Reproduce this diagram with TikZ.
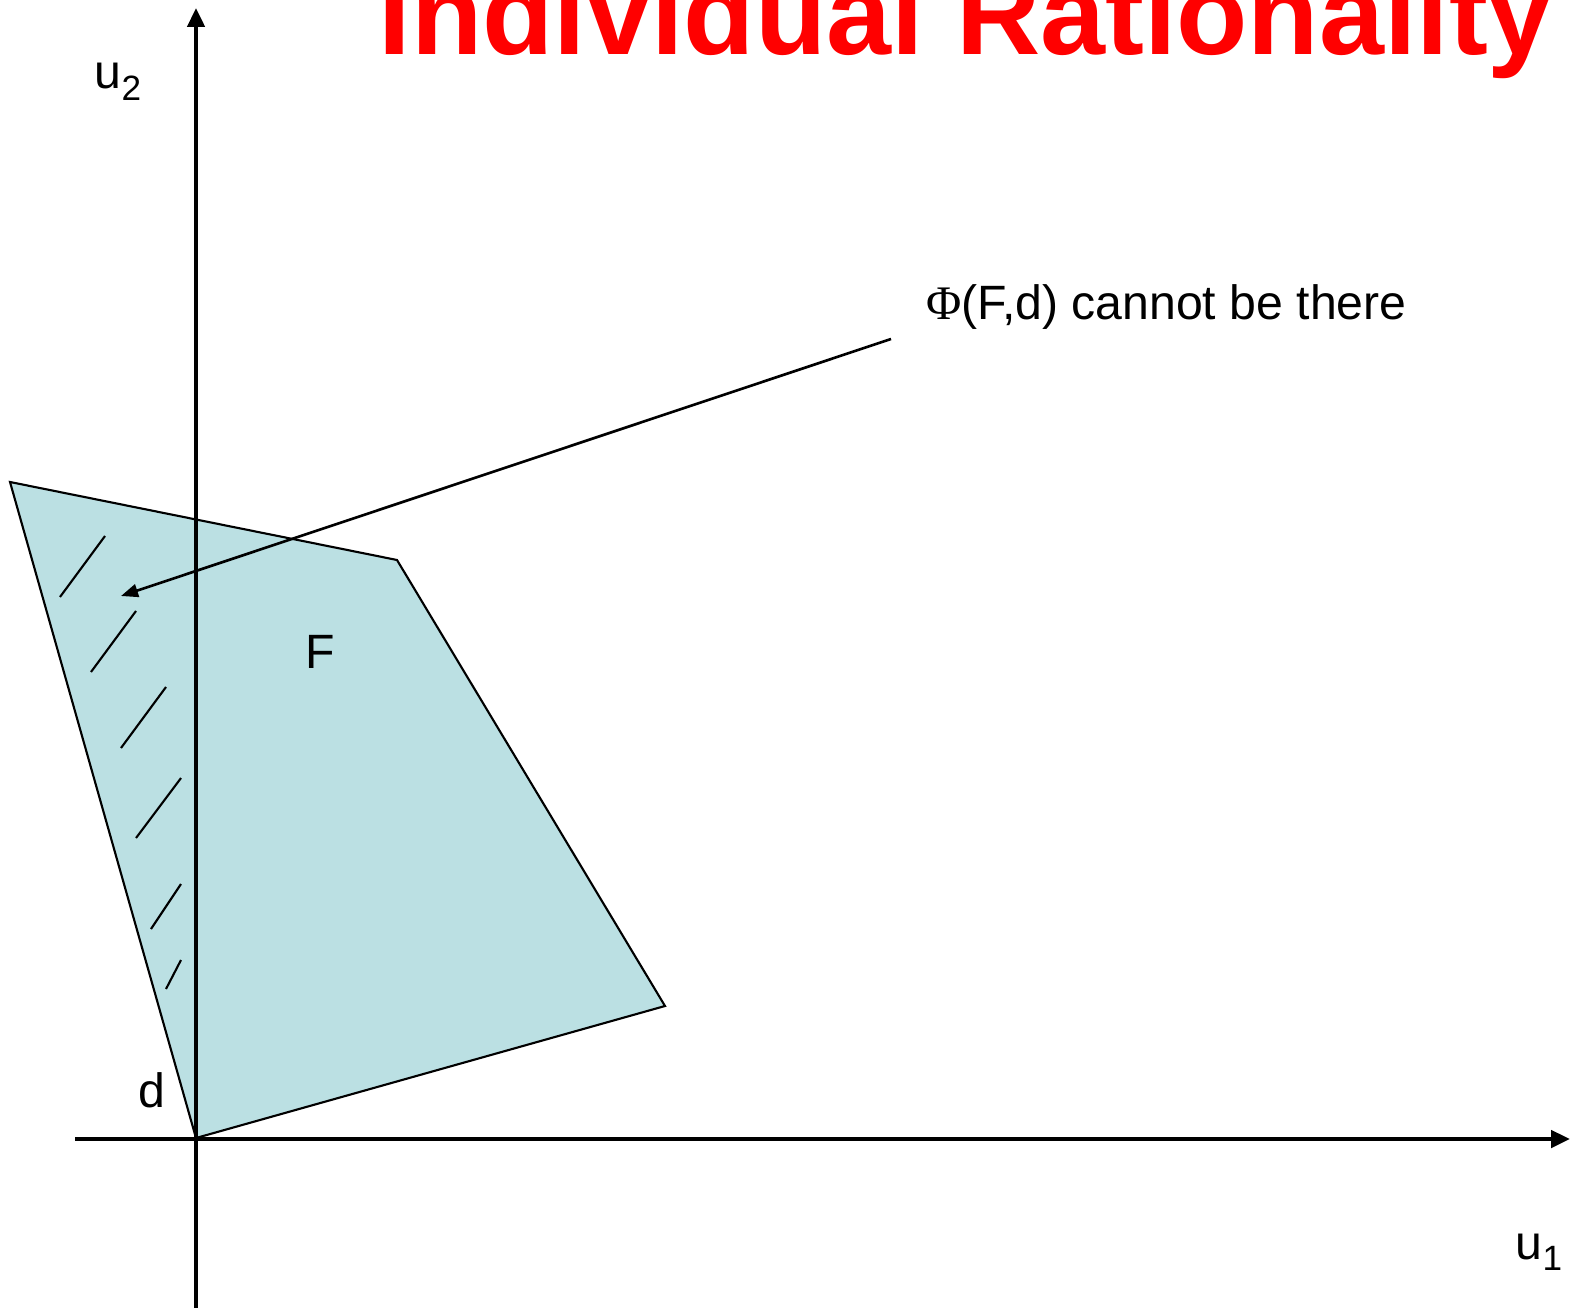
\documentclass[tikz,border=0pt]{standalone}
\usepackage{fontspec}
\setmainfont{Liberation Sans}
\newfontfamily\greekserif{Liberation Serif}
\usetikzlibrary{arrows.meta}
\definecolor{ink}{HTML}{000000}
\definecolor{region}{HTML}{BBE0E3}
\definecolor{titlered}{HTML}{FF0000}
\newcommand\lowidx[1]{\raisebox{-3.4pt}{\fontsize{10}{12}\selectfont #1}}
\tikzset{
  axisline/.style={-{Triangle[length=0.19cm,width=0.17cm]},line width=1.3pt,draw=ink},
  boundary/.style={draw=ink,fill=region,line width=0.6pt},
  hatch/.style={draw=ink,line width=0.6pt},
  pointer/.style={-{Triangle[length=0.17cm,width=0.13cm]},line width=0.75pt,draw=ink},
  lbl/.style={font=\fontsize{13.7}{16}\selectfont,text=ink,inner sep=0pt,anchor=base west},
  headline/.style={font=\fontsize{33.2}{40}\selectfont\bfseries,text=titlered,inner sep=0pt,anchor=base west}
}

\begin{document}
\begin{tikzpicture}[x=0.01cm,y=-0.01cm]
    \clip (0,0) rectangle (1571,1307);
    \coordinate (d) at (196,1138);
    \coordinate (p1) at (10,482);
    \coordinate (p2) at (397,560);
    \coordinate (p3) at (665,1006);
    \coordinate (u1start) at (75,1139);
    \coordinate (u1end) at (1570,1139);
    \coordinate (u2start) at (196,1320);
    \coordinate (u2end) at (196,8);
    \coordinate (tail) at (891,339);
    \coordinate (spot) at (121,596);
    \filldraw[boundary] (d) -- (p1) -- (p2) -- (p3) -- cycle;
    \foreach \ax/\ay/\bx/\by in {105/536/60/597, 136/611/91/672, 166/687/121/748,
                                 181/778/136/838, 181/884/151/929, 181/960/166/989}
      \draw[hatch] (\ax,\ay) -- (\bx,\by);
    \draw[axisline] (u1start) -- (u1end);
    \draw[axisline] (u2start) -- (u2end);
    \draw[pointer] (tail) -- (spot);
    \node[headline] (title) at (378,55) {Individual Rationality};
    \node[lbl] (phi) at (926,320) {{\greekserif Φ}(F,d) cannot be there};
    \node[lbl] (u2) at (94,89) {u\lowidx{2}};
    \node[lbl] (u1) at (1515,1259) {u\lowidx{1}};
    \node[lbl] (dlabel) at (138,1107) {d};
    \node[lbl] (flabel) at (305,668) {F};
\end{tikzpicture}
\end{document}
